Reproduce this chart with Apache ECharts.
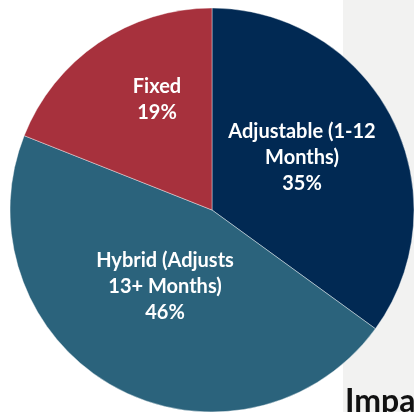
<!DOCTYPE html>
<html>
<head>
<meta charset="utf-8">
<script src="https://cdn.jsdelivr.net/npm/echarts@6/dist/echarts.min.js"></script>
<style>
  html, body { margin: 0; padding: 0; background: #ffffff; }
  #chart { width: 414px; height: 412px; }
</style>
</head>
<body>
<div id="chart"></div>
<script>
// Loan type shares (percent)
const categories = ['Adjustable (1-12\nMonths)', 'Hybrid (Adjusts\n13+ Months)', 'Fixed'];
const shares = [35, 46, 19];
const colors = ['#012953', '#2b637c', '#a7313d'];
// label anchor points (centre of each label block, px)
const labelSpots = [[302, 158], [165, 287], [157, 100]];

const chart = echarts.init(document.getElementById('chart'), null, { renderer: 'canvas' });

chart.setOption({
  backgroundColor: '#ffffff',
  animation: false,
  graphic: [
    {
      type: 'rect',
      z: 0,
      shape: { x: 343, y: 0, width: 80, height: 412 },
      style: { fill: '#f2f2f1' }
    },
    {
      type: 'text',
      z: 10,
      left: 345,
      top: 386,
      style: {
        text: 'Impact',
        fill: '#111111',
        font: 'bold 32px Lato'
      }
    }
  ],
  series: [
    {
      type: 'pie',
      z: 2,
      center: [212, 210],
      radius: [0, 202],
      startAngle: 90,
      clockwise: true,
      data: categories.map((name, i) => ({
        name: name,
        value: shares[i],
        itemStyle: { color: colors[i] }
      })),
      itemStyle: { borderColor: '#ffffff', borderWidth: 0.4 },
      label: {
        show: true,
        position: 'inside',
        formatter: '{b}\n{c}%',
        color: '#ffffff',
        fontFamily: 'Lato',
        fontWeight: 'bold',
        fontSize: 20,
        lineHeight: 26,
        align: 'center'
      },
      labelLine: { show: false },
      labelLayout: function (params) {
        const p = labelSpots[params.dataIndex];
        return { x: p[0], y: p[1], align: 'center', verticalAlign: 'middle' };
      },
      emphasis: { disabled: true }
    }
  ]
});
</script>
</body>
</html>
